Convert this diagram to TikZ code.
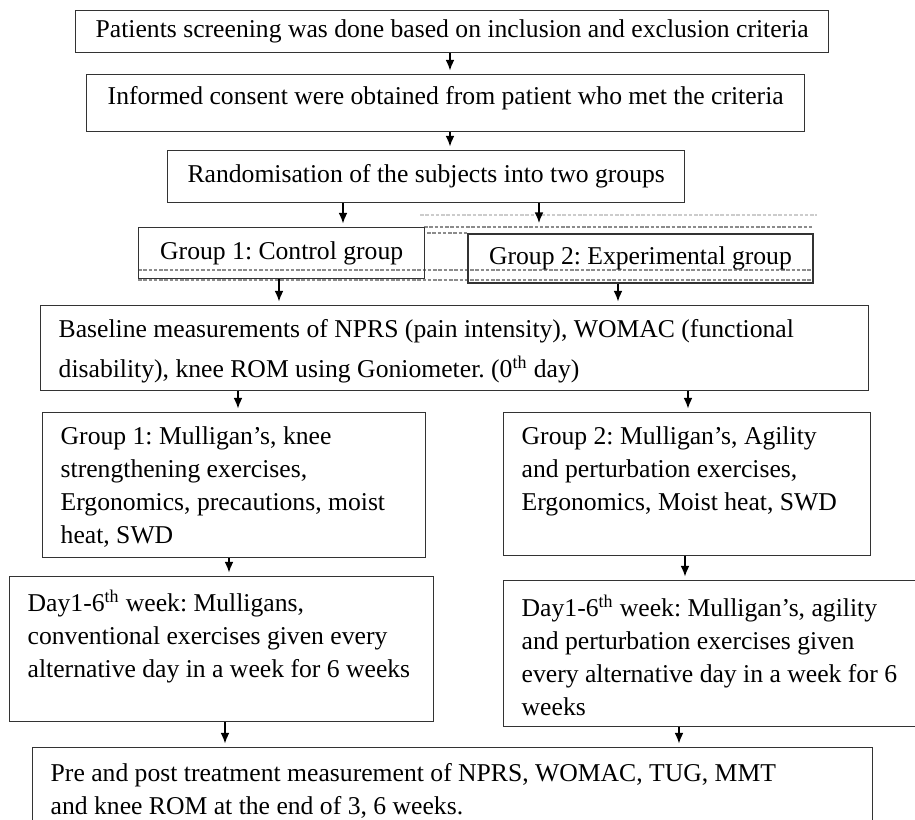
\documentclass[tikz,border=0pt]{standalone}
\usepackage{fontspec}
\setmainfont{Liberation Serif}
\usetikzlibrary{arrows.meta}

\newdimen\pxu \pxu=0.02cm
% box text: width, height, top gap, lines
\newcommand{\stagetext}[4]{\parbox[c][#2\pxu][t]{#1\pxu}{\raggedright\leftskip=18\pxu\vspace*{#3\pxu}\strut #4\par}}

\tikzset{
  stage/.style={draw=black!80, line width=0.8pt, inner sep=0pt, anchor=north west,
    font=\fontsize{14.6}{18.8}\selectfont\frenchspacing},
  flow/.style={-{Latex[length=6pt,width=5pt]}, line width=0.8pt, shorten >=2pt},
  gridline/.style={black!45, line width=0.6pt, dash pattern=on 2pt off 1pt}
}

\begin{document}
\begin{tikzpicture}[x=0.02cm, y=-0.02cm]
    \useasboundingbox (0,0) rectangle (915,820);
    \clip (0,0) rectangle (915,820);

    % faint table lines round the two groups
    \draw[gridline, black!20] (420,215) -- (817,215);
    \draw[gridline] (424,227) -- (812,227);
    \draw[gridline] (427,233) -- (467,233);
    \draw[gridline] (138,270) -- (812,270);
    \draw[gridline] (138,280) -- (812,280);

    % boxes
    \node[stage, minimum width=753\pxu, minimum height=42\pxu] (screen) at (75,10)
      {Patients screening was done based on inclusion and exclusion criteria};
    \node[stage] (consent) at (86,74)
      {\parbox[c][57\pxu][t]{718\pxu}{\centering\vspace*{7\pxu}\strut Informed consent were obtained from patient who met the criteria\par}};
    \node[stage, minimum width=517\pxu, minimum height=52\pxu] (random) at (167,150)
      {Randomisation of the subjects into two groups};
    \node[stage, minimum width=286\pxu, minimum height=51\pxu] (g1) at (138,227)
      {Group 1: Control group};
    \node[stage, line width=1.1pt, minimum width=345\pxu, minimum height=49\pxu] (g2) at (467,233)
      {Group 2: Experimental group};
    \node[stage] (base) at (40,305)
      {\stagetext{828}{85}{9}{Baseline measurements of NPRS (pain intensity), WOMAC (functional\\[7\pxu]
       disability), knee ROM using Goniometer. (0\textsuperscript{th} day)}};
    \node[stage] (g1plan) at (42,412)
      {\stagetext{383}{145}{9}{Group 1: Mulligan’s, knee\\ strengthening exercises,\\
       Ergonomics, precautions, moist\\ heat, SWD}};
    \node[stage] (g2plan) at (503,412)
      {\stagetext{367}{143}{9}{Group 2: Mulligan’s, Agility\\ and perturbation exercises,\\
       Ergonomics, Moist heat, SWD}};
    \node[stage] (d1) at (9,576)
      {\stagetext{424}{145}{12}{Day1-6\textsuperscript{th} week: Mulligans,\\
       conventional exercises given every\\ alternative day in a week for 6 weeks}};
    \node[stage] (d2) at (503,580)
      {\stagetext{430}{146}{13}{Day1-6\textsuperscript{th} week: Mulligan’s, agility\\
       and perturbation exercises given\\ every alternative day in a week for 6\\ weeks}};
    \node[stage] (final) at (32,747)
      {\stagetext{840}{100}{11}{Pre and post treatment measurement of NPRS, WOMAC, TUG, MMT\\
       and knee ROM at the end of 3, 6 weeks.}};

    % arrow columns
    \coordinate (mid) at (450,0);
    \coordinate (toleft) at (343,0);
    \coordinate (toright) at (539,0);
    \coordinate (g1out) at (279,0);
    \coordinate (g2out) at (618,0);
    \coordinate (baseleft) at (238,0);
    \coordinate (baseright) at (688,0);
    \coordinate (planleft) at (229,0);
    \coordinate (planright) at (685,0);
    \coordinate (dayleft) at (225,0);
    \coordinate (dayright) at (679,0);

    \draw[flow] (mid |- screen.south) -- (mid |- consent.north);
    \draw[flow] (mid |- consent.south) -- (mid |- random.north);
    \draw[flow] (toleft |- random.south) -- (toleft |- g1.north);
    \draw[flow, shorten >=5.7pt] (toright |- random.south) -- (toright |- g2.north);
    \draw[flow] (g1out |- g1.south) -- (g1out |- base.north);
    \draw[flow] (g2out |- g2.south) -- (g2out |- base.north);
    \draw[flow] (baseleft |- base.south) -- (baseleft |- g1plan.north);
    \draw[flow] (baseright |- base.south) -- (baseright |- g2plan.north);
    \draw[flow] (planleft |- g1plan.south) -- (planleft |- d1.north);
    \draw[flow] (planright |- g2plan.south) -- (planright |- d2.north);
    \draw[flow] (dayleft |- d1.south) -- (dayleft |- final.north);
    \draw[flow] (dayright |- d2.south) -- (dayright |- final.north);
\end{tikzpicture}
\end{document}
